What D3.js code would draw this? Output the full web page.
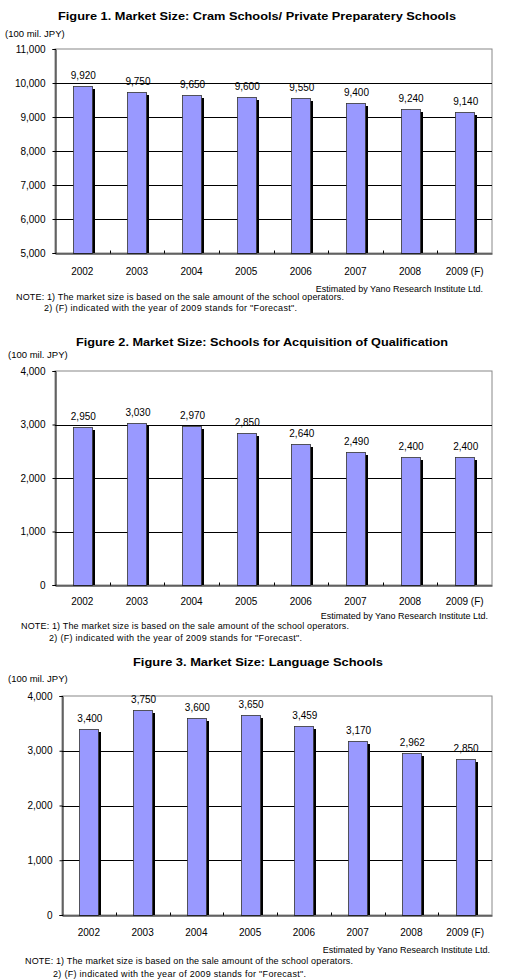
<!DOCTYPE html>
<html>
    <head>
        <meta charset="utf-8">
        <title>Market Size charts</title>
        <script src="https://d3js.org/d3.v7.min.js"></script>
        <style>
         body { margin: 0; background: #fff; }
         svg text { font-family: "Liberation Sans", Arial, sans-serif; fill: #000; }
        </style>
    </head>

    <body>
        <div id="app"></div>
        <script>
         // data
         var years = ["2002", "2003", "2004", "2005", "2006", "2007", "2008", "2009 (F)"]
         var cramValues = [9920, 9750, 9650, 9600, 9550, 9400, 9240, 9140]
         var qualValues = [2950, 3030, 2970, 2850, 2640, 2490, 2400, 2400]
         var langValues = [3400, 3750, 3600, 3650, 3459, 3170, 2962, 2850]
         var cramTicks = [5000, 6000, 7000, 8000, 9000, 10000, 11000]
         var schoolTicks = [0, 1000, 2000, 3000, 4000]
         var titles = ["Figure  1. Market Size: Cram Schools/ Private Preparatery Schools",
                       "Figure 2. Market Size: Schools for Acquisition of Qualification",
                       "Figure 3. Market Size: Language Schools"]
         var unitLabel = "(100 mil. JPY)"
         var sourceLabel = "Estimated by Yano Research Institute Ltd."
         var notes = ["NOTE: 1) The market size is based on the sale amount of the school operators.",
                      "2) (F) indicated with the year of 2009 stands for \"Forecast\"."]

         var fmt = d3.format(",")
         var svg = d3.select("#app").append("svg")
                     .attr("width", 506).attr("height", 980)

         function drawChart(c){
             var g = svg.append("g")
             g.append("text")
              .attr("x", c.titleX).attr("y", c.titleY)
              .attr("text-anchor", "middle")
              .style("font-size", "11.5px").style("font-weight", "bold")
              .attr("textLength", c.titleW).attr("lengthAdjust", "spacingAndGlyphs")
              .text(c.title)
             g.append("text")
              .attr("x", c.unitX).attr("y", c.unitY)
              .style("font-size", "9.5px")
              .text(unitLabel)

             var x = d3.scaleBand().domain(years).range([c.left, c.right])
             var y = d3.scaleLinear().domain(c.domain).range([c.bottom, c.top])
             var bw = Math.round(x.bandwidth() * 0.345)
             var bx = function(i){ return Math.round(x(years[i]) + (x.bandwidth() - bw) / 2) }

             // frame (top/right grey)
             g.append("rect")
              .attr("x", c.left).attr("y", c.top)
              .attr("width", c.right - c.left).attr("height", c.bottom - c.top)
              .attr("fill", "#fff").attr("stroke", "#888").attr("stroke-width", 1)

             // gridlines
             g.selectAll(".grid").data(c.ticks.slice(1, -1)).enter().append("line")
              .attr("x1", c.left).attr("x2", c.right)
              .attr("y1", function(d){ return Math.round(y(d)) + 0.5 })
              .attr("y2", function(d){ return Math.round(y(d)) + 0.5 })
              .attr("stroke", "#000")

             // bars with dark shadow on the right
             var bars = g.selectAll(".bar").data(c.values).enter().append("g")
             bars.append("rect")
                 .attr("x", function(d, i){ return bx(i) + 2 })
                 .attr("y", function(d){ return Math.round(y(d)) + 3 })
                 .attr("width", bw + 1)
                 .attr("height", function(d){ return c.bottom - Math.round(y(d)) - 3 })
                 .attr("fill", "#000")
             bars.append("rect")
                 .attr("x", function(d, i){ return bx(i) + 0.5 })
                 .attr("y", function(d){ return Math.round(y(d)) + 0.5 })
                 .attr("width", bw)
                 .attr("height", function(d){ return c.bottom - Math.round(y(d)) })
                 .attr("fill", "#9999ff").attr("stroke", "#333").attr("stroke-width", 0.8)
             bars.append("text")
                 .attr("x", function(d, i){ return x(years[i]) + x.bandwidth() / 2 + 1 })
                 .attr("y", function(d){ return y(d) - 7 })
                 .attr("text-anchor", "middle")
                 .style("font-size", "10px")
                 .text(function(d){ return fmt(d) })

             // axes
             var yAxis = d3.axisLeft(y).tickValues(c.ticks).tickFormat(fmt).tickSize(3).tickPadding(c.tickPad)
             var ya = g.append("g").attr("transform", "translate(" + (c.left + 0.5) + ",0)").call(yAxis)
             ya.select(".domain").attr("stroke", "#000")
             ya.selectAll("text").style("font-size", "10px")

             var xAxis = d3.axisBottom(x).tickSize(0).tickPadding(c.yearPad)
             var xa = g.append("g").attr("transform", "translate(0," + (c.bottom + 0.5) + ")").call(xAxis)
             xa.select(".domain").attr("stroke", "#000").attr("stroke-width", 1.2)
             xa.selectAll("text").style("font-size", "10px")
             // small ticks at category borders
             xa.selectAll(".sep").data(years.slice(1)).enter().append("line")
               .attr("x1", function(d){ return Math.round(x(d)) + 0.5 })
               .attr("x2", function(d){ return Math.round(x(d)) + 0.5 })
               .attr("y1", 0).attr("y2", -3)
               .attr("stroke", "#000")

             g.append("text")
              .attr("x", c.srcX).attr("y", c.srcY)
              .attr("text-anchor", "end")
              .style("font-size", "9px")
              .text(sourceLabel)
             g.append("text")
              .attr("x", c.noteX).attr("y", c.noteY)
              .style("font-size", "9px")
              .attr("textLength", 328).attr("lengthAdjust", "spacing")
              .text(notes[0])
             g.append("text")
              .attr("x", c.noteX + 28).attr("y", c.noteY + c.noteGap)
              .style("font-size", "9px")
              .attr("textLength", 253).attr("lengthAdjust", "spacing")
              .text(notes[1])
         }

         drawChart({title: titles[0], titleX: 257, titleY: 20, titleW: 398,
                    unitX: 5, unitY: 37,
                    left: 55, right: 492, top: 49, bottom: 253,
                    domain: [5000, 11000], ticks: cramTicks, values: cramValues,
                    tickPad: 7, yearPad: 14,
                    srcX: 483, srcY: 292, noteX: 16, noteY: 300, noteGap: 11})

         drawChart({title: titles[1], titleX: 262, titleY: 346, titleW: 372,
                    unitX: 8, unitY: 358,
                    left: 55, right: 492, top: 371, bottom: 585,
                    domain: [0, 4000], ticks: schoolTicks, values: qualValues,
                    tickPad: 7, yearPad: 12,
                    srcX: 488, srcY: 619, noteX: 21, noteY: 629, noteGap: 12})

         drawChart({title: titles[2], titleX: 258, titleY: 666, titleW: 250,
                    unitX: 8, unitY: 682,
                    left: 62, right: 492, top: 696, bottom: 915,
                    domain: [0, 4000], ticks: schoolTicks, values: langValues,
                    tickPad: 7, yearPad: 13,
                    srcX: 490, srcY: 953, noteX: 25, noteY: 964, noteGap: 13})
        </script>
    </body>

</html>
